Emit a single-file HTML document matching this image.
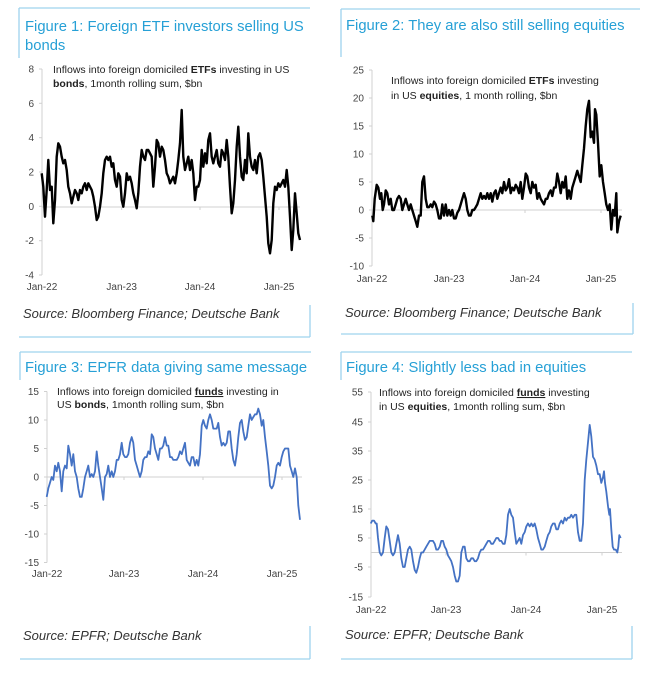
<!DOCTYPE html>
<html><head><meta charset="utf-8"><style>
body{margin:0;width:648px;height:680px;background:#fff;overflow:hidden;font-family:"Liberation Sans",sans-serif}
svg{display:block}
.t{font-size:14.8px;fill:#26a0d6}
.ax{font-size:10px;fill:#444}
.sub{font-size:10.5px;fill:#222}
.src{font-size:13px;fill:#333;font-style:italic}
.b{stroke:#9fd3ee;stroke-width:1.3;fill:none}
.g{stroke:#d0d0d0;stroke-width:1;fill:none}
</style></head><body>
<svg id="s" width="648" height="680" xmlns="http://www.w3.org/2000/svg">
<path class="b" d="M19,8H310M19,8V58M310,305V337M19,337H310"/>
<path class="b" d="M341,9H640M341,9V57M633,303V334M341,334H633"/>
<path class="b" d="M20,352H311M20,352V380M310,626V659M20,659H310"/>
<path class="b" d="M341,352H632M341,352V380M632,626V659M341,659H632"/>
<text class="t" x="25" y="31">Figure 1: Foreign ETF investors selling US</text>
<text class="t" x="25" y="50">bonds</text>
<text class="t" x="346" y="30">Figure 2: They are also still selling equities</text>
<text class="t" x="25" y="372">Figure 3: EPFR data giving same message</text>
<text class="t" x="346" y="372">Figure 4: Slightly less bad in equities</text>
<text class="src" x="23" y="318">Source: Bloomberg Finance; Deutsche Bank</text>
<text class="src" x="345" y="317">Source: Bloomberg Finance; Deutsche Bank</text>
<text class="src" x="23" y="640">Source: EPFR; Deutsche Bank</text>
<text class="src" x="345" y="639">Source: EPFR; Deutsche Bank</text>
<text class="sub" x="53" y="73">Inflows into foreign domiciled <tspan font-weight="bold">ETFs</tspan> investing in US</text>
<text class="sub" x="53" y="87"><tspan font-weight="bold">bonds</tspan>, 1month rolling sum, $bn</text>
<text class="sub" x="391" y="84">Inflows into foreign domiciled <tspan font-weight="bold">ETFs</tspan> investing</text>
<text class="sub" x="391" y="99">in US <tspan font-weight="bold">equities</tspan>,  1 month rolling, $bn</text>
<text class="sub" x="57" y="395">Inflows into foreign domiciled <tspan font-weight="bold" text-decoration="underline">funds</tspan> investing in</text>
<text class="sub" x="57" y="408">US <tspan font-weight="bold">bonds</tspan>, 1month rolling sum, $bn</text>
<text class="sub" x="379" y="396">Inflows into foreign domiciled <tspan font-weight="bold" text-decoration="underline">funds</tspan> investing</text>
<text class="sub" x="379" y="410">in US <tspan font-weight="bold">equities</tspan>, 1month rolling sum, $bn</text>
<g id="g"></g>
</svg>
<script>
var NS="http://www.w3.org/2000/svg",g=document.getElementById("g");
function el(n,a,t){var e=document.createElementNS(NS,n);for(var k in a)e.setAttribute(k,a[k]);if(t!=null)e.textContent=t;g.appendChild(e);return e}
function axes(ax,ys,labs,yb,xt,xl,zy,xr){
 el("line",{x1:ax,y1:ys[0],x2:ax,y2:ys[ys.length-1],class:"g"});
 ys.forEach(function(y,i){el("line",{x1:ax-3,y1:y,x2:ax,y2:y,class:"g"});el("text",{x:ax-8,y:y+3.5,class:"ax","text-anchor":"end"},labs[i]);});
 el("line",{x1:ax,y1:zy,x2:xr,y2:zy,class:"g"});
 var n=["Jan-22","Jan-23","Jan-24","Jan-25"];
 xt.forEach(function(x,i){el("line",{x1:x,y1:zy,x2:x,y2:zy+3,class:"g"});el("text",{x:x,y:xl,class:"ax","text-anchor":"middle"},n[i]);});
}
axes(42,[69,103.3,137.7,172,206.3,240.7,275],["8","6","4","2","0","-2","-4"],0,[42,121.7,200,279],290,207,300);
axes(372,[70,98,126,154,182,210,238,266],["25","20","15","10","5","0","-5","-10"],0,[372,449,525,601],282,210,622);
axes(47,[391.5,420,448.5,477,505.5,534,562.5],["15","10","5","0","-5","-10","-15"],0,[47,124,203,282],577,477,302);
axes(371,[392,422,451,480,509,538,567,597],["55","45","35","25","15","5","-5","-15"],0,[371,446,526,602],613,552.5,622);
function line(pts,c,w){el("polyline",{points:pts.map(function(p){return p[0].toFixed(1)+","+p[1].toFixed(1)}).join(" "),fill:"none",stroke:c,"stroke-width":w,"stroke-linejoin":"round"});}
var d1=[[125,520],[130,560],[135,650],[140,570],[145,480],[150,570],[155,560],[160,670],[165,600],[170,470],[175,430],[180,440],[185,470],[190,490],[195,480],[200,510],[205,560],[210,580],[215,610],[220,590],[225,570],[230,580],[235,600],[240,570],[245,580],[250,560],[255,550],[260,570],[265,550],[270,560],[275,570],[280,590],[285,620],[290,660],[295,650],[300,620],[305,580],[310,520],[315,480],[320,470],[325,480],[330,470],[335,500],[340,490],[345,540],[350,560],[355,520],[360,530],[365,600],[370,620],[375,580],[380,520],[385,540],[390,530],[395,550],[400,580],[405,600],[410,625],[415,580],[420,500],[425,450],[430,470],[435,480],[440,450],[445,450],[450,460],[455,470],[460,560],[465,500],[470,420],[475,430],[480,470],[485,440],[490,450],[495,480],[500,520],[505,530],[510,550],[515,540],[520,530],[525,550],[530,520],[535,480],[540,430],[545,330],[550,470],[555,510],[560,490],[565,470],[570,510],[575,480],[580,520],[585,600],[590,560],[595,560],[600,540],[605,450],[610,500],[615,460],[620,490],[625,420],[630,400],[635,470],[640,490],[645,470],[650,450],[655,490],[660,500],[665,450],[670,460],[675,480],[680,420],[685,470],[690,560],[695,640],[700,610],[705,540],[710,440],[715,380],[720,470],[725,530],[730,540],[735,480],[740,520],[745,400],[750,470],[755,500],[760,510],[765,480],[770,520],[775,470],[780,460],[785,480],[790,530],[795,590],[800,650],[805,730],[810,760],[815,720],[820,610],[825,560],[830,570],[835,550],[840,560],[845,550],[850,540],[855,560],[860,510],[865,560],[870,650],[875,750],[880,690],[885,580],[890,640],[895,700],[900,720]];
line(d1.map(function(p){return[p[0]/3,p[1]/3]}),"#000",2.4);
var d2=[[145,-1],[148,-2],[152,2],[158,4.5],[163,4],[168,2],[172,3],[176,0],[180,1],[185,3.5],[190,3],[195,1],[200,2],[205,0],[210,0],[215,1],[220,2],[225,2.5],[230,2],[235,0],[240,1],[245,2],[250,1],[255,0],[260,1],[265,0],[270,-1],[275,-2],[280,-3],[285,-1],[290,-1],[295,5],[300,6],[305,2],[310,0.5],[315,0.5],[320,1],[325,0.5],[330,1.5],[335,1],[340,0],[345,-1.5],[350,-1.5],[355,1],[360,-1],[365,1],[370,-1],[375,0],[380,-1],[385,0],[390,-1.5],[395,-1.5],[400,-0.5],[405,0],[410,1],[415,2],[420,3],[425,2],[430,0],[435,-1],[440,-1],[445,0],[450,0],[455,0.5],[460,1],[465,2],[470,3],[475,2],[480,2.5],[485,2],[490,3],[495,2],[500,3],[505,1.5],[510,3],[515,3.5],[520,2],[525,3],[530,4],[535,3],[540,5],[545,3.5],[550,4],[555,5.5],[560,3],[565,4],[570,3.5],[575,4.5],[580,4],[585,3],[590,5],[595,2],[600,4],[605,6.5],[610,6],[615,4],[620,3],[625,5],[630,4],[635,4.5],[640,2],[645,3],[650,2],[655,1.5],[660,1],[665,2],[670,2],[675,3],[680,3.5],[685,2.5],[690,4],[695,4],[700,6.5],[705,5],[710,3],[715,5],[720,4],[725,6],[730,2],[735,3.5],[740,2],[745,4],[750,5],[755,6],[760,7],[765,6],[770,5],[775,8],[780,11],[785,15],[790,18],[795,19.5],[800,13],[805,14],[810,12],[813,18],[817,17],[822,12],[827,6],[832,8],[837,5],[842,3],[847,1],[852,0],[857,1],[862,-3.5],[867,0],[872,-1],[877,3],[880,-4],[885,-2],[890,-1]];
line(d2.map(function(p){return[324+p[0]/3,210-p[1]*5.6]}),"#000",2.4);
var d3=[[140,-3.5],[145,-2],[150,-1],[155,0],[160,-0.5],[165,2],[170,1],[175,2.5],[180,1],[185,-2.5],[190,1],[195,2],[200,1.5],[205,5.5],[210,4],[215,2],[220,4],[225,1],[230,0],[235,-2],[240,-3.5],[245,-3.5],[250,-2],[255,0],[260,1],[265,2],[270,0],[275,0.5],[280,0],[285,1],[290,4.5],[295,2],[300,0],[305,-2],[310,-4],[315,0],[320,0.5],[325,2],[330,0],[335,1],[340,0],[345,1],[350,3],[355,3],[360,4],[365,6],[370,4],[375,3.5],[380,3.5],[385,4],[390,6],[395,7],[400,6],[405,3],[410,2],[415,1],[420,0],[425,1],[430,3],[435,3.5],[440,3.5],[445,4.5],[450,4],[455,7.5],[460,7],[465,5],[470,4],[475,3],[480,5],[485,5],[490,5.5],[495,7],[500,5.5],[505,5.5],[510,3.5],[515,3.5],[520,3],[525,3],[530,3],[535,3.5],[540,4.5],[545,4],[550,5],[555,6],[560,3],[565,2.5],[570,2],[575,3.5],[580,3.5],[585,2],[590,3],[595,2],[600,4],[605,9],[610,10],[615,9],[620,8.5],[625,10],[630,11],[635,10],[640,8.5],[645,8.5],[650,8.5],[655,9.5],[660,7],[665,5.5],[670,6],[675,5.5],[680,6],[685,8],[690,8],[695,5],[700,3],[705,2],[710,4],[715,7],[720,9.5],[725,10],[730,8],[735,6.5],[740,7],[745,9],[750,11],[755,10],[760,10.5],[765,11],[770,11],[775,12],[780,11],[785,9],[790,10],[795,7],[800,4.5],[805,2],[810,-1.5],[815,-2],[820,-1.5],[825,0],[830,2],[835,2.5],[840,2],[845,3.5],[850,4.5],[855,5],[860,5],[865,5],[870,2],[875,1],[880,0],[885,1.5],[890,0],[895,-5],[900,-7.5]];
line(d3.map(function(p){return[p[0]/3,477-p[1]*5.7]}),"#4472c4",1.8);
var d4=[[140,10],[145,11],[150,11],[155,10],[158,10],[162,5],[167,0],[172,-1],[177,0],[182,5],[187,9],[192,8],[197,4],[202,0],[207,-1],[212,0],[217,3],[222,6],[227,3],[232,-2],[237,-5],[242,-5],[247,-2],[252,1],[257,2],[262,1],[267,-3],[272,-6],[277,-7],[282,-5],[287,-2],[292,0],[297,0],[302,1],[307,2],[312,3],[317,4],[322,4],[327,4],[332,3],[337,1],[342,1],[347,2],[352,4],[357,4],[362,2],[367,1],[372,-1],[377,-2],[382,-3],[387,-5],[392,-8],[397,-10],[402,-10],[407,-8],[412,0],[417,2],[422,2],[427,-2],[432,-3],[437,-3],[442,-2],[447,-2],[452,-3],[457,-3],[462,-2],[467,0],[472,1],[477,1],[482,2],[487,3],[492,4],[497,4],[502,3],[507,3],[512,4],[517,5],[522,5],[527,4],[532,4],[537,3],[542,3],[547,6],[552,13],[557,15],[562,13],[567,12],[572,7],[577,3],[582,4],[587,5],[592,3],[597,6],[602,7],[607,9],[612,10],[617,9],[622,10],[627,9],[632,10],[637,8],[642,5],[647,3],[652,1],[657,1],[662,2],[667,4],[672,6],[677,7],[682,9],[687,10],[692,10],[697,8],[702,8],[707,10],[712,11],[717,10],[722,12],[727,11],[732,12],[737,12],[742,13],[747,12],[752,13],[757,13],[762,7],[767,4],[772,4],[777,10],[782,25],[787,32],[792,38],[797,44],[802,40],[807,33],[812,32],[817,30],[822,27],[827,27],[832,24],[837,26],[840,28],[843,24],[847,21],[852,16],[856,13],[858,15],[862,8],[866,2],[870,1],[875,1],[880,0],[883,2],[886,6],[890,5]];
line(d4.map(function(p){return[324+p[0]/3,552.5-p[1]*2.9]}),"#4472c4",1.8);
</script>
</body></html>
